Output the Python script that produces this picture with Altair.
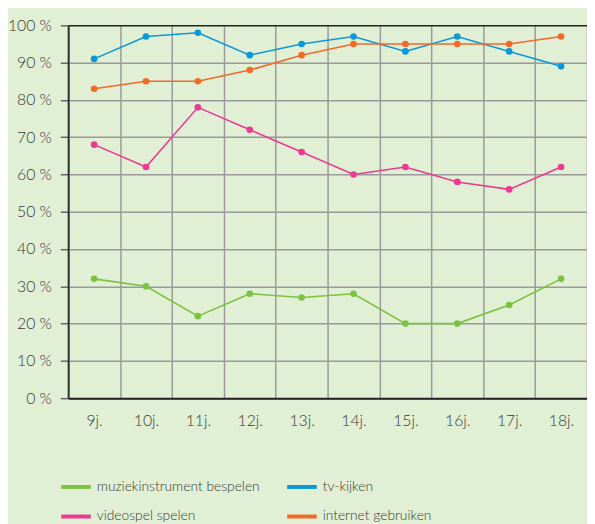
import altair as alt
import pandas as pd

ages = ["9j.", "10j.", "11j.", "12j.", "13j.", "14j.", "15j.", "16j.", "17j.", "18j."]
muziek = [32, 30, 22, 28, 27, 28, 20, 20, 25, 32]
tv = [91, 97, 98, 92, 95, 97, 93, 97, 93, 89]
video = [68, 62, 78, 72, 66, 60, 62, 58, 56, 62]
internet = [83, 85, 85, 88, 92, 95, 95, 95, 95, 97]
# legend is filled column by column: order gives rows (muziek, tv) / (video, internet)
series_names = ["muziekinstrument bespelen", "videospel spelen", "tv-kijken", "internet gebruiken"]
series_values = [muziek, video, tv, internet]
colors = ["#7cc142", "#ec3a93", "#0a98d8", "#f26a2a"]

rows = []
for name, vals in zip(series_names, series_values):
    for a, v in zip(ages, vals):
        rows.append({"age": a, "value": v, "series": name})
df = pd.DataFrame(rows)

FONT = "Lato"
TXT = "#383838"
W = 300

x = alt.X(
    "age:N",
    sort=ages,
    scale=alt.Scale(type="band", paddingInner=0, paddingOuter=0),
    axis=alt.Axis(
        title=None, labelAngle=0, tickBand="extent", ticks=False,
        domainColor="#222222", domainWidth=2, grid=True,
        gridColor="#9a9a9a", gridWidth=1.5, labelPadding=15,
        labelFontSize=16, labelColor=TXT, labelFont=FONT, labelFontWeight=W,
    ),
)
y = alt.Y(
    "value:Q",
    scale=alt.Scale(domain=[0, 100], nice=False),
    axis=alt.Axis(
        title=None, values=list(range(0, 101, 10)),
        labelExpr="datum.value + ' %'", grid=True,
        gridColor={"expr": "datum.value == 100 ? '#222222' : '#9a9a9a'"},
        gridWidth=1.5, domainColor="#333333", domainWidth=2,
        tickSize=8, tickColor="#666666", tickWidth=1.5,
        labelPadding=9, labelFontSize=16, labelColor=TXT, labelFont=FONT,
        labelFontWeight=W,
    ),
)
color = alt.Color(
    "series:N",
    sort=series_names,
    scale=alt.Scale(domain=series_names, range=colors),
    legend=alt.Legend(
        title=None, orient="none", legendX=-9, legendY=451, columns=2,
        symbolType="stroke", symbolSize=900, symbolStrokeWidth=4,
        labelFontSize=14, labelFont=FONT, labelColor=TXT, labelOffset=4,
        labelFontWeight=W,
        labelLimit=400, columnPadding=19, rowPadding=5, padding=0,
    ),
)

lines = alt.Chart(df).mark_line(strokeWidth=1.6).encode(x=x, y=y, color=color)
points = alt.Chart(df).mark_point(filled=True, size=45, opacity=1).encode(
    x=x, y=y,
    color=alt.Color("series:N", scale=alt.Scale(domain=series_names, range=colors), legend=None),
)

chart = (
    alt.layer(lines, points)
    .properties(
        width=526, height=378, background="#e1efd5",
        autosize=alt.AutoSizeParams(type="none"),
        padding={"left": 61, "top": 14, "right": 0, "bottom": 124},
    )
    .configure_view(stroke=None)
)

chart.save("out.html", embed_options={"renderer": "svg", "actions": False})
